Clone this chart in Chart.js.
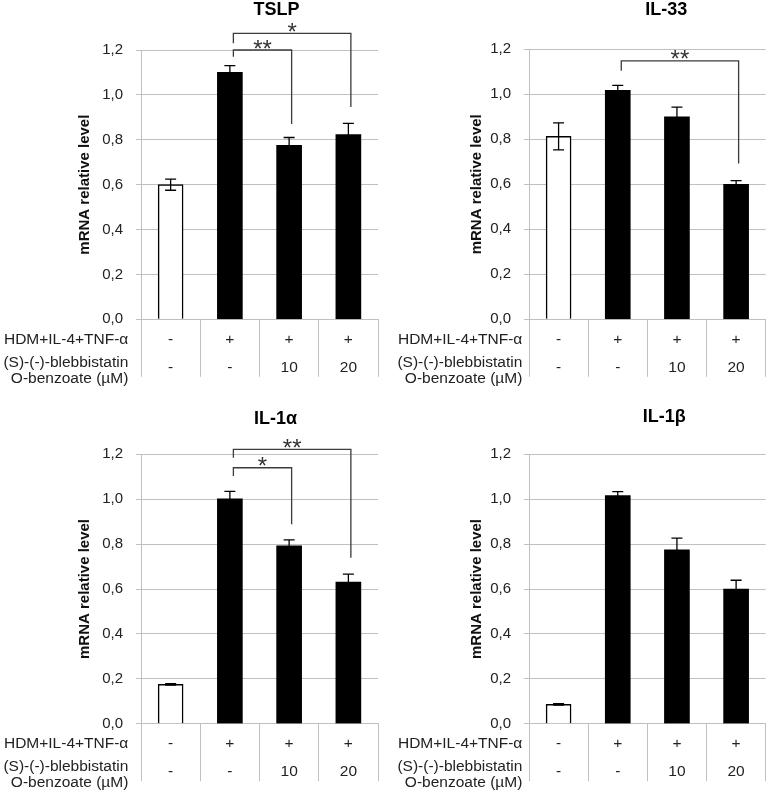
<!DOCTYPE html>
<html><head><meta charset="utf-8">
<script src="https://cdn.jsdelivr.net/npm/chart.js@4/dist/chart.umd.min.js"></script>
<style>
html,body{margin:0;padding:0;background:#fff;}
#wrap{position:relative;width:769px;height:792px;overflow:hidden;}
canvas{position:absolute;}
</style></head><body>
<div id="wrap">
<canvas id="c0" width="384" height="396" style="left:0;top:0"></canvas>
<canvas id="c1" width="385" height="396" style="left:384px;top:0"></canvas>
<canvas id="c2" width="384" height="396" style="left:0;top:396px"></canvas>
<canvas id="c3" width="385" height="396" style="left:384px;top:396px"></canvas>
</div>
<script>
// ---- data ----
const hdmRow = ['-', '+', '+', '+'];
const blebRow = ['-', '-', '10', '20'];
const rowLabels = ['HDM+IL-4+TNF-α', '(S)-(-)-blebbistatin', 'O-benzoate (µM)'];
const yTicks = [0, 0.2, 0.4, 0.6, 0.8, 1.0, 1.2];
const titles = ['TSLP', 'IL-33', 'IL-1α', 'IL-1β'];
const yTitle = 'mRNA relative level';

const tslpMean = [0.60, 1.10, 0.775, 0.823];
const tslpErr  = [0.025, 0.03, 0.035, 0.05];
const il33Mean = [0.813, 1.018, 0.90, 0.60];
const il33Err  = [0.06, 0.022, 0.043, 0.016];
const il1aMean = [0.175, 1.002, 0.792, 0.631];
const il1aErr  = [0.003, 0.033, 0.027, 0.035];
const il1bMean = [0.086, 1.016, 0.775, 0.60];
const il1bErr  = [0.003, 0.018, 0.052, 0.039];

// significance brackets: from/to category index, level & leg ends in data units
const tslpSig = [
  {from: 1, to: 2, level: 1.20, leftEnd: 1.17, rightEnd: 0.87, label: '**'},
  {from: 1, to: 3, level: 1.274, leftEnd: 1.23, rightEnd: 0.946, label: '*'}
];
const il33Sig = [
  {from: 1, to: 3, level: 1.149, leftEnd: 1.105, rightEnd: 0.693, label: '**'}
];
const il1aSig = [
  {from: 1, to: 2, level: 1.140, leftEnd: 1.103, rightEnd: 0.888, label: '*'},
  {from: 1, to: 3, level: 1.222, leftEnd: 1.185, rightEnd: 0.739, label: '**'}
];
const il1bSig = [];

// ---- layout / style ----
const FONT = '"Liberation Sans", Arial, sans-serif';
const GRID = '#c0c0c0';
const TXT = '#222';
const H = 396;
const panels = [
  {id: 'c0', title: titles[0], mean: tslpMean, err: tslpErr, sig: tslpSig, W: 384, left: 141, right: 378, top: 50, bottom: 319.3, yTitleX: 85, rowGap: 12.7, titleY: 10, titleDx: 17},
  {id: 'c1', title: titles[1], mean: il33Mean, err: il33Err, sig: il33Sig, W: 385, left: 145, right: 381.7, top: 49.3, bottom: 319.3, yTitleX: 93, rowGap: 6.7, titleY: 10, titleDx: 19},
  {id: 'c2', title: titles[2], mean: il1aMean, err: il1aErr, sig: il1aSig, W: 384, left: 141, right: 378, top: 58.3, bottom: 327.7, yTitleX: 85, rowGap: 12.7, titleY: 23, titleDx: 16},
  {id: 'c3', title: titles[3], mean: il1bMean, err: il1bErr, sig: il1bSig, W: 385, left: 145, right: 381.7, top: 58.3, bottom: 327.7, yTitleX: 93, rowGap: 6.7, titleY: 21, titleDx: 17}
];

function extrasPlugin(p) {
  return {
    id: 'extras_' + p.id,
    afterDatasetsDraw(chart) {
      const {ctx, scales: {x, y}} = chart;
      ctx.save();
      ctx.strokeStyle = '#000';
      ctx.lineWidth = 1.3;
      p.mean.forEach((m, i) => {
        const px = x.getPixelForValue(i);
        const t = y.getPixelForValue(m + p.err[i]);
        const b = y.getPixelForValue(m - p.err[i]);
        ctx.beginPath();
        ctx.moveTo(px, t); ctx.lineTo(px, b);
        ctx.moveTo(px - 5.5, t); ctx.lineTo(px + 5.5, t);
        ctx.moveTo(px - 5.5, b); ctx.lineTo(px + 5.5, b);
        ctx.stroke();
      });
      ctx.restore();
    },
    afterDraw(chart) {
      const {ctx, chartArea, scales: {x, y}} = chart;
      ctx.save();
      // brackets
      ctx.strokeStyle = '#3c3c3c';
      ctx.lineWidth = 1.3;
      p.sig.forEach(s => {
        const x1 = x.getPixelForValue(s.from) + 3.5;
        const x2 = x.getPixelForValue(s.to) + 2.5;
        const yl = y.getPixelForValue(s.level);
        ctx.beginPath();
        ctx.moveTo(x1, y.getPixelForValue(s.leftEnd));
        ctx.lineTo(x1, yl);
        ctx.lineTo(x2, yl);
        ctx.lineTo(x2, y.getPixelForValue(s.rightEnd));
        ctx.stroke();
        const fs = 24;
        ctx.font = fs + 'px ' + FONT;
        ctx.fillStyle = '#333';
        ctx.textAlign = 'center';
        ctx.textBaseline = 'alphabetic';
        ctx.fillText(s.label, (x1 + x2) / 2, yl - 7 + 0.57 * fs);
      });
      // title
      ctx.fillStyle = '#000';
      ctx.font = 'bold 18px ' + FONT;
      ctx.textAlign = 'center';
      ctx.textBaseline = 'middle';
      ctx.fillText(p.title, (chartArea.left + chartArea.right) / 2 + p.titleDx, p.titleY);
      // row labels of the table
      ctx.font = '15.5px ' + FONT;
      ctx.fillStyle = TXT;
      ctx.textAlign = 'right';
      const rx = chartArea.left - p.rowGap;
      ctx.fillText(rowLabels[0], rx, chartArea.bottom + 20);
      ctx.fillText(rowLabels[1], rx, chartArea.bottom + 43.5);
      ctx.fillText(rowLabels[2], rx, chartArea.bottom + 59.5);
      ctx.restore();
    }
  };
}

panels.forEach(p => {
  new Chart(document.getElementById(p.id), {
    type: 'bar',
    data: {
      labels: hdmRow.map((h, i) => [h, blebRow[i]]),
      datasets: [{
        data: p.mean,
        backgroundColor: p.mean.map((_, i) => i === 0 ? '#ffffff' : '#000000'),
        borderColor: '#000',
        borderWidth: p.mean.map((_, i) => i === 0 ? 1.5 : 0),
        barThickness: 25
      }]
    },
    options: {
      responsive: false,
      animation: false,
      devicePixelRatio: 1,
      layout: {padding: {left: 0, right: p.W - p.right, top: p.top, bottom: 0}},
      plugins: {legend: {display: false}, tooltip: {enabled: false}, title: {display: false}},
      scales: {
        x: {
          offset: true,
          grid: {display: true, drawOnChartArea: false, offset: true, tickLength: 57.5, color: GRID, lineWidth: 1},
          border: {display: true, color: GRID, width: 1},
          ticks: {
            padding: -51.75, autoSkip: false, maxRotation: 0, minRotation: 0,
            color: TXT, font: {family: FONT, size: 15.5, lineHeight: 28.5 / 15.5}
          },
          afterFit: s => { s.height = H - p.bottom; }
        },
        y: {
          min: 0, max: 1.2,
          afterBuildTicks: s => { s.ticks = yTicks.map(v => ({value: v})); },
          ticks: {
            padding: 13, color: TXT, font: {family: FONT, size: 15},
            callback: v => Number(v).toFixed(1).replace('.', ',')
          },
          grid: {color: GRID, lineWidth: 1, drawTicks: true, tickLength: 5},
          border: {display: true, color: GRID, width: 1},
          title: {
            display: true, text: yTitle, color: '#111',
            font: {family: FONT, size: 15, weight: 'bold'},
            padding: {top: p.yTitleX - 9, bottom: 0}
          },
          afterFit: s => { s.width = p.left; }
        }
      }
    },
    plugins: [extrasPlugin(p)]
  });
});
</script>
</body></html>
